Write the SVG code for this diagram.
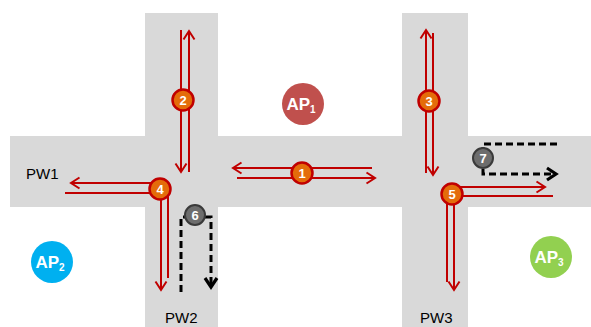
<svg xmlns="http://www.w3.org/2000/svg" width="591" height="327" viewBox="0 0 591 327">
<defs>
<marker id="ra" markerUnits="userSpaceOnUse" markerWidth="14" markerHeight="14" refX="10" refY="7" orient="auto" viewBox="0 0 14 14">
<path d="M1.5,1.5 L10,7 L1.5,12.5" fill="none" stroke="#c00000" stroke-width="2"/>
</marker>
<marker id="ka" markerUnits="userSpaceOnUse" markerWidth="16" markerHeight="16" refX="11" refY="8" orient="auto" viewBox="0 0 16 16">
<path d="M2,2 L11,8 L2,14" fill="none" stroke="#000" stroke-width="3.2"/>
</marker>
</defs>
<style>
.road{fill:#d9d9d9}
.r{fill:none;stroke:#c00000;stroke-width:2}
.ra{marker-end:url(#ra)}
.k{fill:none;stroke:#000;stroke-width:3;stroke-dasharray:7 4}
.num{fill:#e46c0a;stroke:#c00000;stroke-width:2.5}
.gnum{fill:#6d6d6d;stroke:#3a3a3a;stroke-width:2}
.nt{font-family:"Liberation Sans",Arial,sans-serif;font-weight:bold;font-size:13px;fill:#fff;text-anchor:middle}
.ap{font-family:"Liberation Sans",Arial,sans-serif;font-weight:bold;font-size:17px;fill:#fff;text-anchor:middle}
.lbl{font-family:"Liberation Sans",Arial,sans-serif;font-size:15px;fill:#000}
</style>
<rect width="591" height="327" fill="#fff"/>
<g id="roads">
<rect class="road" x="10" y="136" width="581" height="71"/>
<rect class="road" x="145" y="13" width="73" height="314"/>
<rect class="road" x="402" y="13" width="66" height="314"/>
</g>
<g id="labels">
<text class="lbl" x="26" y="179">PW1</text>
<text class="lbl" x="165" y="323">PW2</text>
<text class="lbl" x="420" y="323">PW3</text>
</g>
<g id="connectors">
<line class="r ra" x1="372" y1="168" x2="233" y2="168"/>
<line class="r ra" x1="237" y1="178" x2="375" y2="178"/>
<line class="r ra" x1="181" y1="30" x2="181" y2="172"/>
<line class="r ra" x1="189" y1="172" x2="189" y2="31"/>
<line class="r ra" x1="426" y1="173" x2="426" y2="30"/>
<line class="r ra" x1="433" y1="33" x2="433" y2="175"/>
<polyline class="r ra" points="168,278 168,183 71,183"/>
<polyline class="r ra" points="65,193 161,193 161,290"/>
<polyline class="r ra" points="447,282 447,187 545,187"/>
<polyline class="r ra" points="553,196 454,196 454,290"/>
<polyline class="k" points="181,292 181,217 211,217 211,287" marker-end="url(#ka)"/>
<polyline class="k" points="557,144 483,144 483,174 556,174" marker-end="url(#ka)"/>
</g>
<g id="n1"><circle class="num" cx="302" cy="173" r="10.5"/><text class="nt" x="302" y="177.5">1</text></g>
<g id="n2"><circle class="num" cx="183" cy="100" r="10.5"/><text class="nt" x="183" y="104.5">2</text></g>
<g id="n3"><circle class="num" cx="429" cy="101" r="10.5"/><text class="nt" x="429" y="105.5">3</text></g>
<g id="n4"><circle class="num" cx="160" cy="189" r="10.5"/><text class="nt" x="160" y="193.5">4</text></g>
<g id="n5"><circle class="num" cx="452" cy="194" r="10.5"/><text class="nt" x="452" y="198.5">5</text></g>
<g id="n6"><circle class="gnum" cx="195" cy="215" r="10"/><text class="nt" x="195" y="219.5">6</text></g>
<g id="n7"><circle class="gnum" cx="483" cy="158" r="10"/><text class="nt" x="483" y="162.5">7</text></g>
<g id="ap1"><circle cx="303" cy="104" r="21" fill="#c0504d"/><text class="ap" x="301" y="110">AP<tspan font-size="10" dy="3">1</tspan></text></g>
<g id="ap2"><circle cx="52" cy="262" r="21" fill="#00b0f0"/><text class="ap" x="50" y="268">AP<tspan font-size="10" dy="3">2</tspan></text></g>
<g id="ap3"><circle cx="551" cy="257" r="21" fill="#92d050"/><text class="ap" x="549" y="263">AP<tspan font-size="10" dy="3">3</tspan></text></g>
</svg>
